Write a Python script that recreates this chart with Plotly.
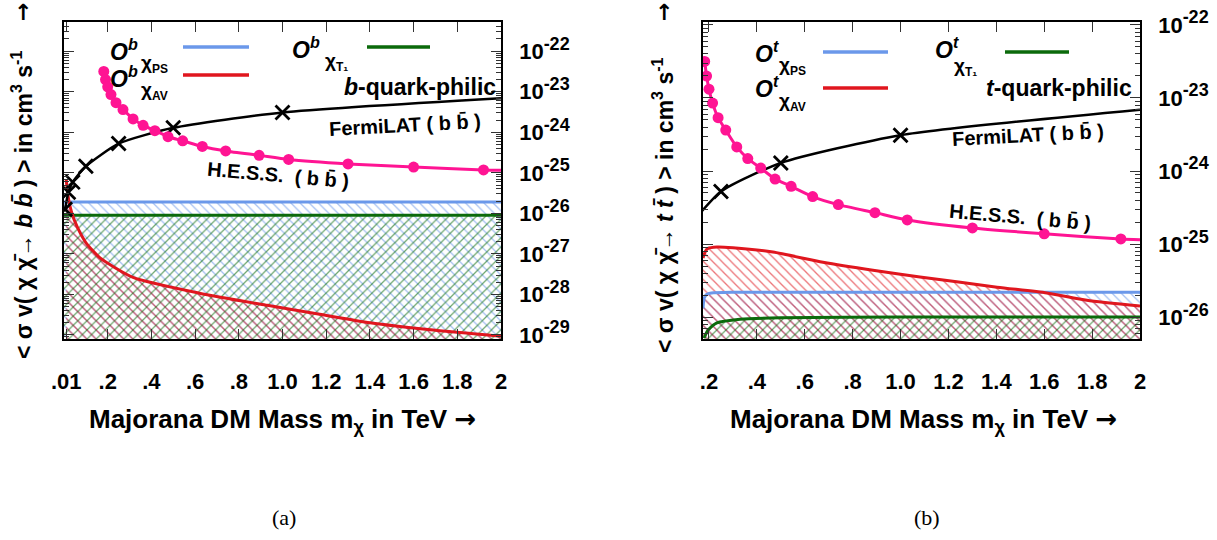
import numpy as np
import plotly.graph_objects as go

W, H = 1217, 540

# ---------------- data (log10 of <sigma v> in cm^3 s^-1) ----------------
# experimental limits, shared by both panels
fermi_mass = [0.005, 0.02, 0.04, 0.10, 0.25, 0.50, 1.00, 2.00]
fermi_log_sv = [-25.90, -25.48, -25.23, -24.84, -24.28, -23.89, -23.51, -23.16]

hess_mass = [0.182, 0.19, 0.20, 0.215, 0.238, 0.27, 0.316, 0.362, 0.416, 0.476,
             0.543, 0.633, 0.74, 0.893, 1.028, 1.30, 1.60, 1.92, 2.00]
hess_log_sv = [-22.50, -22.70, -22.88, -23.07, -23.27, -23.44, -23.67, -23.83, -23.96, -24.11,
               -24.21, -24.35, -24.46, -24.57, -24.67, -24.78, -24.86, -24.93, -24.94]

# panel (a): b-quark-philic
b_ps_mass = [0.0, 0.5, 1.0, 1.5, 2.0]
b_ps_log_sv = [-25.72, -25.72, -25.72, -25.72, -25.72]
b_t1_mass = [0.0, 0.5, 1.0, 1.5, 2.0]
b_t1_log_sv = [-26.05, -26.05, -26.05, -26.05, -26.05]
b_av_mass = [0.010, 0.02, 0.035, 0.06, 0.10, 0.165, 0.316, 0.62, 0.93, 1.17, 1.40, 1.69, 2.00]
b_av_log_sv = [-25.16, -25.62, -25.98, -26.33, -26.72, -27.10, -27.58, -27.97, -28.27, -28.49,
               -28.70, -28.88, -29.03]

# panel (b): t-quark-philic
t_ps_mass = [0.175, 0.18, 0.19, 0.21, 0.30, 0.60, 1.00, 2.00]
t_ps_log_sv = [-25.88, -25.74, -25.69, -25.67, -25.66, -25.66, -25.66, -25.66]
t_av_mass = [0.175, 0.185, 0.196, 0.233, 0.30, 0.467, 0.676, 0.885, 1.081, 1.403, 1.611, 1.778, 2.00]
t_av_log_sv = [-25.19, -25.10, -25.06, -25.04, -25.05, -25.11, -25.25, -25.36, -25.45, -25.59,
               -25.67, -25.77, -25.85]
t_t1_mass = [0.179, 0.19, 0.196, 0.233, 0.33, 0.50, 1.00, 2.00]
t_t1_log_sv = [-26.29, -26.21, -26.18, -26.08, -26.03, -26.01, -26.00, -26.00]

# tick labels
b_xtick_vals = [0.01, 0.2, 0.4, 0.6, 0.8, 1.0, 1.2, 1.4, 1.6, 1.8, 2.0]
b_xtick_text = [".01", ".2", ".4", ".6", ".8", "1.0", "1.2", "1.4", "1.6", "1.8", "2"]
t_xtick_vals = [0.2, 0.4, 0.6, 0.8, 1.0, 1.2, 1.4, 1.6, 1.8, 2.0]
t_xtick_text = [".2", ".4", ".6", ".8", "1.0", "1.2", "1.4", "1.6", "1.8", "2"]
b_ytick_exp = [-22, -23, -24, -25, -26, -27, -28, -29]
t_ytick_exp = [-22, -23, -24, -25, -26]

# ---------------- styling ----------------
BLUE = "#6b98ea"
RED = "#e0161e"
GREEN = "#0b6a0b"
PINK = "#ff1493"
FONT = "Liberation Sans, Arial, sans-serif"


def pw(v):
    return [10.0 ** a for a in v]


def hatch(x, logy, floor_log, color, shape, xa, ya):
    xs = list(x) + list(x)[::-1]
    ys = pw(logy) + [10.0 ** floor_log] * len(x)
    return go.Scatter(x=xs, y=ys, xaxis=xa, yaxis=ya, mode="lines", fill="toself",
                      fillcolor="rgba(0,0,0,0)", line=dict(width=0, color=color),
                      fillpattern=dict(shape=shape, fgcolor=color, bgcolor="rgba(0,0,0,0)",
                                       size=6.5, solidity=0.2, fgopacity=0.6),
                      hoverinfo="skip")


def curve(x, logy, color, xa, ya, width=3, shape="spline"):
    return go.Scatter(x=x, y=pw(logy), xaxis=xa, yaxis=ya, mode="lines",
                      line=dict(color=color, width=width, shape=shape, smoothing=0.6))


fig = go.Figure()

panels = [
    dict(xa="x", ya="y", floor=-30.5, ps=(b_ps_mass, b_ps_log_sv), av=(b_av_mass, b_av_log_sv),
         t1=(b_t1_mass, b_t1_log_sv)),
    dict(xa="x2", ya="y2", floor=-27.5, ps=(t_ps_mass, t_ps_log_sv), av=(t_av_mass, t_av_log_sv),
         t1=(t_t1_mass, t_t1_log_sv)),
]

for p in panels:
    xa, ya = p["xa"], p["ya"]
    fig.add_trace(hatch(*p["ps"], p["floor"], BLUE, "\\", xa, ya))
    fig.add_trace(hatch(*p["av"], p["floor"], RED, "\\", xa, ya))
    fig.add_trace(hatch(*p["t1"], p["floor"], GREEN, "/", xa, ya))
    fig.add_trace(curve(*p["ps"], BLUE, xa, ya))
    fig.add_trace(curve(*p["t1"], GREEN, xa, ya))
    fig.add_trace(curve(*p["av"], RED, xa, ya))
    # Fermi-LAT
    fig.add_trace(curve(fermi_mass, fermi_log_sv, "black", xa, ya, width=2.5))
    fig.add_trace(go.Scatter(x=fermi_mass[:-1], y=pw(fermi_log_sv[:-1]), xaxis=xa, yaxis=ya,
                             mode="markers",
                             marker=dict(symbol="x-thin", size=14, line=dict(width=2.8, color="black"))))
    # H.E.S.S.
    fig.add_trace(curve(hess_mass, hess_log_sv, PINK, xa, ya, width=3))
    fig.add_trace(go.Scatter(x=hess_mass[:-1], y=pw(hess_log_sv[:-1]), xaxis=xa, yaxis=ya,
                             mode="markers", marker=dict(symbol="circle", size=11, color=PINK)))


def minor_vals(exps):
    lo, hi = min(exps) - 1, max(exps) + 1
    return [m * 10.0 ** e for e in range(lo, hi) for m in range(2, 10)]


def ylabels(exps):
    return [f"10<sup><span style='font-size:18px'>{e}</span></sup>" for e in exps]


ydom = [1 - 339 / H, 1 - 22 / H]
common_x = dict(showgrid=False, zeroline=False, showline=True, linecolor="black", linewidth=1.5,
                mirror="ticks", ticks="inside", ticklen=10, tickwidth=1.3, tickcolor="#333",
                tickmode="array", ticklabelstandoff=22, automargin=False,
                tickfont=dict(size=22, family=FONT, weight="bold", color="black"))
common_y = dict(type="log", side="right", showgrid=False, zeroline=False, showline=True,
                linecolor="black", linewidth=1.5, mirror="ticks", ticks="inside", ticklen=10,
                tickwidth=1.3, tickcolor="#333", tickmode="array", ticklabelstandoff=12,
                automargin=False,
                tickfont=dict(size=22, family=FONT, weight="bold", color="black"))

fig.update_layout(
    width=W, height=H, margin=dict(l=0, r=0, t=0, b=0, autoexpand=False),
    paper_bgcolor="white", plot_bgcolor="white", showlegend=False,
    font=dict(family=FONT, color="black"),
    xaxis=dict(domain=[64 / W, 501 / W], range=[0, 2], anchor="y",
               tickvals=b_xtick_vals, ticktext=b_xtick_text, **common_x),
    yaxis=dict(domain=ydom, range=[-29.1, -21.28], anchor="x",
               tickvals=pw(b_ytick_exp), ticktext=ylabels(b_ytick_exp),
               minor=dict(tickvals=minor_vals(b_ytick_exp), ticks="inside", ticklen=5,
                          tickcolor="#333", tickwidth=1, showgrid=False),
               **common_y),
    xaxis2=dict(domain=[703 / W, 1140 / W], range=[0.175, 2], anchor="y2",
                tickvals=t_xtick_vals, ticktext=t_xtick_text, **common_x),
    yaxis2=dict(domain=ydom, range=[-26.3, -21.96], anchor="x2",
                tickvals=pw(t_ytick_exp), ticktext=ylabels(t_ytick_exp),
                minor=dict(tickvals=minor_vals(t_ytick_exp), ticks="inside", ticklen=5,
                           tickcolor="#333", tickwidth=1, showgrid=False),
                **common_y),
)


def ann(text, x, y, size, xanchor="center", yanchor="middle", angle=0, family=FONT, weight="bold"):
    return dict(text=text, x=x / W, y=1 - y / H, xref="paper", yref="paper", xanchor=xanchor,
                yanchor=yanchor, showarrow=False, textangle=angle,
                font=dict(size=size, family=family, weight=weight, color="black"))


def seg(x0, x1, y, color):
    return dict(type="line", xref="paper", yref="paper", x0=x0 / W, x1=x1 / W,
                y0=1 - y / H, y1=1 - y / H, line=dict(color=color, width=3.5))


SUB = "<span style='font-size:12px'>{}</span>"
SERIF = "Liberation Serif, Times New Roman, serif"
ARROW = "DejaVu Sans, sans-serif"
XARROW = "<span style='font-family:DejaVu Sans'>→</span>"
annotations = []
shapes = []

# ---- panel (a) legend & labels ----
annotations += [
    ann("<i>O</i><sup><i>b</i></sup>", 108, 50, 23, xanchor="left"),
    ann("χ<sub>" + SUB.format("PS") + "</sub>", 139, 64, 19, xanchor="left"),
    ann("<i>O</i><sup><i>b</i></sup>", 108, 77, 23, xanchor="left"),
    ann("χ<sub>" + SUB.format("AV") + "</sub>", 139, 91, 19, xanchor="left"),
    ann("<i>O</i><sup><i>b</i></sup>", 290, 48, 23, xanchor="left"),
    ann("χ<sub>" + SUB.format("T₁") + "</sub>", 323, 62, 19, xanchor="left"),
    ann("<i>b</i>-quark-philic", 498, 87, 23, xanchor="right"),
    ann("FermiLAT ( b b̄ )", 405, 125, 20, angle=-3),
    ann("H.E.S.S.&nbsp; ( b b̄ )", 278, 175, 20, angle=5),
    ann("&lt; σ v( χ χ̄→ <i>b b̄</i> ) &gt; in cm<sup>3</sup> s<sup>-1</sup>",
        22, 205, 23, angle=-90),
    ann("→", 22, 12, 22, angle=-90, family=ARROW),
    ann("Majorana DM Mass m<sub>χ</sub> in TeV " + XARROW, 282, 420, 26),
    ann("(a)", 284, 517, 22, family=SERIF, weight="normal"),
]
shapes += [seg(183, 249, 47, BLUE), seg(183, 249, 75, RED), seg(367, 430, 47, GREEN)]

# ---- panel (b) legend & labels ----
annotations += [
    ann("<i>O</i><sup><i>t</i></sup>", 753, 52, 23, xanchor="left"),
    ann("χ<sub>" + SUB.format("PS") + "</sub>", 777, 66, 19, xanchor="left"),
    ann("<i>O</i><sup><i>t</i></sup>", 753, 87, 23, xanchor="left"),
    ann("χ<sub>" + SUB.format("AV") + "</sub>", 777, 102, 19, xanchor="left"),
    ann("<i>O</i><sup><i>t</i></sup>", 933, 48, 23, xanchor="left"),
    ann("χ<sub>" + SUB.format("T₁") + "</sub>", 952, 67, 19, xanchor="left"),
    ann("<i>t</i>-quark-philic", 1134, 88, 23, xanchor="right"),
    ann("FermiLAT ( b b̄ )", 1028, 135, 20, angle=-3),
    ann("H.E.S.S.&nbsp; ( b b̄ )", 1020, 217, 20, angle=5),
    ann("&lt; σ v( χ χ̄→ <i>t t̄</i> ) &gt; in cm<sup>3</sup> s<sup>-1</sup>",
        663, 205, 23, angle=-90),
    ann("→", 663, 12, 22, angle=-90, family=ARROW),
    ann("Majorana DM Mass m<sub>χ</sub> in TeV " + XARROW, 923, 420, 26),
    ann("(b)", 927, 517, 22, family=SERIF, weight="normal"),
]
shapes += [seg(823, 888, 52, BLUE), seg(823, 888, 88, RED), seg(1005, 1069, 52, GREEN)]

fig.update_layout(annotations=annotations, shapes=shapes)
fig.write_html("out.html", config={"displayModeBar": False},
               post_script="document.body.style.margin='0px';")
